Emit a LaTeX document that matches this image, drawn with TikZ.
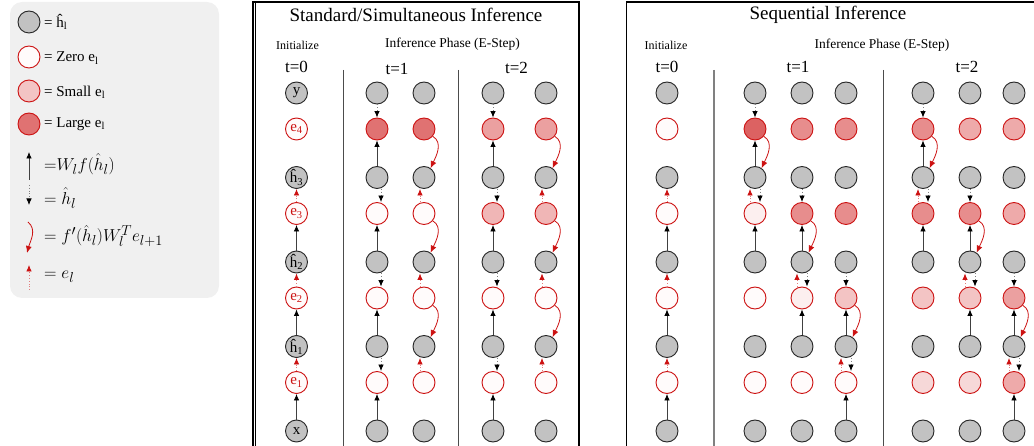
\documentclass[tikz,border=0pt]{standalone}
\usepackage{fontspec}
\setmainfont{Liberation Serif}
\usetikzlibrary{arrows.meta}
\definecolor{hgray}{HTML}{C2C2C2}
\definecolor{ered}{HTML}{CC1111}
\definecolor{legbg}{HTML}{F0F0F0}
\definecolor{LZ}{HTML}{FFFBFB}
\definecolor{LA}{HTML}{FCEFEF}
\definecolor{LB}{HTML}{F6D8D8}
\definecolor{LC}{HTML}{F3C4C4}
\definecolor{LD}{HTML}{EEAAAA}
\definecolor{LE}{HTML}{EBA0A0}
\definecolor{LF}{HTML}{E78D8D}
\definecolor{LG}{HTML}{E07272}
\definecolor{LH}{HTML}{DC6262}
\definecolor{LS}{HTML}{F0B6B6}
\tikzset{
  hnode/.style={circle,draw=black!85,line width=0.9pt,fill=hgray,minimum size=22pt,inner sep=0pt,font=\fontsize{15}{15}\selectfont},
  enode/.style={circle,draw=ered,line width=0.9pt,fill=#1,minimum size=22pt,inner sep=0pt,text=ered,font=\fontsize{15}{15}\selectfont},
  uparr/.style={draw=black!75,line width=0.8pt,-{Latex[length=6.5pt,width=5.5pt,black]}},
  dnarr/.style={draw=black!50,dotted,line width=0.8pt,-{Latex[length=6.5pt,width=5.5pt,black]}},
  rparr/.style={draw=ered!55,dotted,line width=0.8pt,-{Latex[length=6.5pt,width=5.5pt,ered]}},
  rcarr/.style={draw=ered,line width=0.8pt,-{Latex[length=7pt,width=6pt,ered]}},
  sepline/.style={line width=1pt,draw=black!70},
  ttl/.style={font=\fontsize{19}{22}\selectfont},
  tlab/.style={font=\fontsize{17}{20}\selectfont},
  initlab/.style={font=\fontsize{12}{14}\selectfont},
  phase/.style={font=\fontsize{13.5}{16}\selectfont},
  legtxt/.style={anchor=west,inner sep=0pt,font=\fontsize{15}{18}\selectfont},
  legmath/.style={anchor=west,inner sep=0pt,text=black,font=\fontsize{19}{21}\selectfont},
}
\newcommand\mkcol[6]{%
  \node[hnode] (#1h4) at (#2,-93) {};
  \node[enode=#3] (#1e4) at (#2,-129) {};
  \node[hnode] (#1h3) at (#2,-177.5) {};
  \node[enode=#4] (#1e3) at (#2,-213.5) {};
  \node[hnode] (#1h2) at (#2,-262) {};
  \node[enode=#5] (#1e2) at (#2,-298) {};
  \node[hnode] (#1h1) at (#2,-346.5) {};
  \node[enode=#6] (#1e1) at (#2,-382.5) {};
  \node[hnode] (#1h0) at (#2,-431) {};
}
\newcommand\ArUp[3][0]{\draw[uparr] ([xshift=#1pt]#2.north) -- ([xshift=#1pt]#3.south);}
\newcommand\ArDn[3][0]{\draw[dnarr] ([xshift=#1pt]#2.south) -- ([xshift=#1pt]#3.north);}
\newcommand\ArRup[3][-5]{\draw[rparr] ([xshift=#1pt]#2.north) -- ([xshift=#1pt]#3.south);}
\newcommand\ArRc[2]{\draw[rcarr] (#1.-40) to[out=-30,in=65] (#2.55);}
% patterns
\newcommand\stdA[1]{\ArDn{#1h4}{#1e4}\ArUp{#1h3}{#1e4}\ArDn[4]{#1h3}{#1e3}\ArUp{#1h2}{#1e3}\ArDn[4]{#1h2}{#1e2}\ArUp{#1h1}{#1e2}\ArDn[4]{#1h1}{#1e1}\ArUp{#1h0}{#1e1}}
\newcommand\stdB[1]{\ArRc{#1e4}{#1h3}\ArRup[-4]{#1e3}{#1h3}\ArRc{#1e3}{#1h2}\ArRup[-4]{#1e2}{#1h2}\ArRc{#1e2}{#1h1}\ArRup[-4]{#1e1}{#1h1}}
\newcommand\initA[1]{\ArUp{#1h0}{#1e1}\ArRup[0]{#1e1}{#1h1}\ArUp{#1h1}{#1e2}\ArRup[0]{#1e2}{#1h2}\ArUp{#1h2}{#1e3}\ArRup[0]{#1e3}{#1h3}}
\newcommand\seqA[1]{\ArDn{#1h4}{#1e4}\ArUp{#1h3}{#1e4}\ArRc{#1e4}{#1h3}\ArRup{#1e3}{#1h3}\ArDn[5]{#1h3}{#1e3}\ArUp{#1h2}{#1e3}}
\newcommand\seqB[1]{\ArDn{#1h3}{#1e3}\ArUp{#1h2}{#1e3}\ArRc{#1e3}{#1h2}\ArRup{#1e2}{#1h2}\ArDn[5]{#1h2}{#1e2}\ArUp{#1h1}{#1e2}}
\newcommand\seqC[1]{\ArDn{#1h2}{#1e2}\ArUp{#1h1}{#1e2}\ArRc{#1e2}{#1h1}\ArRup{#1e1}{#1h1}\ArDn[5]{#1h1}{#1e1}\ArUp{#1h0}{#1e1}}
\begin{document}
\begin{tikzpicture}[x=1pt,y=1pt]
\useasboundingbox (0,0) rectangle (1034,-446);
% ---------------- legend
\fill[legbg,rounded corners=12pt] (10,-2) rectangle (219,-298);
\node[hnode] (lg1) at (29,-22) {};
\node[enode=LZ] (lg2) at (29,-57) {};
\node[enode=LC] (lg3) at (29,-91) {};
\node[enode=LG] (lg4) at (29,-124) {};
\node[legtxt] (lt1) at (44,-22) {= \^{h}\textsubscript{l}};
\node[legtxt] (lt2) at (44,-58) {= Zero e\textsubscript{l}};
\node[legtxt] (lt3) at (44,-92) {= Small e\textsubscript{l}};
\node[legtxt] (lt4) at (44,-124) {= Large e\textsubscript{l}};
\coordinate (la1) at (29,-180); \coordinate (la2) at (29,-152);
\coordinate (lb1) at (29,-185); \coordinate (lb2) at (29,-205);
\coordinate (lc1) at (28,-222); \coordinate (lc2) at (27,-253);
\coordinate (ld1) at (29,-290); \coordinate (ld2) at (29,-265);
\draw[uparr] (la1) -- (la2);
\draw[dnarr] (lb1) -- (lb2);
\draw[rcarr] (lc1) to[out=-40,in=75] (lc2);
\draw[rparr] (ld1) -- (ld2);
\node[legmath] (lm1) at (44,-164) {${=}W_l f(\hat{h}_l)$};
\node[legmath] (lm2) at (44,-198) {$=\hat{h}_l$};
\node[legmath] (lm3) at (44,-236) {$=f'(\hat{h}_l)W_l^Te_{l+1}$};
\node[legmath] (lm4) at (44,-277) {$=e_l$};
% ---------------- panel 1
\draw[line width=1.8pt] (253,-446) -- (253,-2) -- (579,-2) -- (579,-446);
\draw[line width=0.7pt] (255.8,-3) -- (255.8,-446);
\node[ttl] (t1) at (416,-15) {Standard/Simultaneous Inference};
\node[initlab] (i1) at (297.5,-45) {Initialize};
\node[phase] (p1) at (452.5,-44) {Inference Phase (E-Step)};
\node[tlab] (a0) at (296.5,-67) {t=0};
\node[tlab] (a1) at (397,-69) {t=1};
\node[tlab] (a2) at (516.5,-68) {t=2};
\coordinate (s1t) at (343,-70); \coordinate (s1b) at (343,-446);
\coordinate (s2t) at (458,-70); \coordinate (s2b) at (458,-446);
\draw[sepline] (s1t) -- (s1b);
\draw[sepline] (s2t) -- (s2b);
% t=0 with labels
\node[hnode] (A0h4) at (296.5,-93) {y};
\node[enode=LZ] (A0e4) at (296.5,-129) {e\textsubscript{4}};
\node[hnode] (A0h3) at (296.5,-177.5) {\^{h}\textsubscript{3}};
\node[enode=LZ] (A0e3) at (296.5,-213.5) {e\textsubscript{3}};
\node[hnode] (A0h2) at (296.5,-262) {\^{h}\textsubscript{2}};
\node[enode=LZ] (A0e2) at (296.5,-298) {e\textsubscript{2}};
\node[hnode] (A0h1) at (296.5,-346.5) {\^{h}\textsubscript{1}};
\node[enode=LZ] (A0e1) at (296.5,-382.5) {e\textsubscript{1}};
\node[hnode] (A0h0) at (296.5,-431) {x};
\initA{A0}
\mkcol{A1a}{377}{LG}{LZ}{LZ}{LZ}
\mkcol{A1b}{424}{LG}{LZ}{LZ}{LZ}
\mkcol{A2a}{493}{LE}{LS}{LZ}{LZ}
\mkcol{A2b}{546}{LE}{LS}{LZ}{LZ}
\stdA{A1a}\stdB{A1b}\stdA{A2a}\stdB{A2b}
% ---------------- panel 2
\draw[line width=1.8pt] (626.5,-446) -- (626.5,-2) -- (1034,-2);
\node[ttl] (t2) at (828,-15) {Sequential Inference};
\node[initlab] (i2) at (666,-45) {Initialize};
\node[phase] (p2) at (882,-45) {Inference Phase (E-Step)};
\node[tlab] (b0) at (667,-67) {t=0};
\node[tlab] (b1) at (798,-67) {t=1};
\node[tlab] (b2) at (967,-67) {t=2};
\coordinate (s3t) at (714,-70); \coordinate (s3b) at (714,-446);
\coordinate (s4t) at (883,-70); \coordinate (s4b) at (883,-446);
\draw[sepline,draw=black!50,line width=1.5pt] (s3t) -- (s3b);
\draw[sepline] (s4t) -- (s4b);
\mkcol{B0}{667}{LZ}{LZ}{LZ}{LZ}
\initA{B0}
\mkcol{B1a}{755}{LH}{LA}{LZ}{LZ}
\mkcol{B1b}{802}{LF}{LF}{LA}{LZ}
\mkcol{B1c}{846}{LF}{LF}{LC}{LZ}
\mkcol{B2a}{923}{LF}{LF}{LC}{LB}
\mkcol{B2b}{970}{LD}{LF}{LC}{LB}
\mkcol{B2c}{1014}{LD}{LD}{LE}{LD}
\seqA{B1a}\seqB{B1b}\seqC{B1c}
\seqA{B2a}\seqB{B2b}\seqC{B2c}
\end{tikzpicture}
\end{document}
